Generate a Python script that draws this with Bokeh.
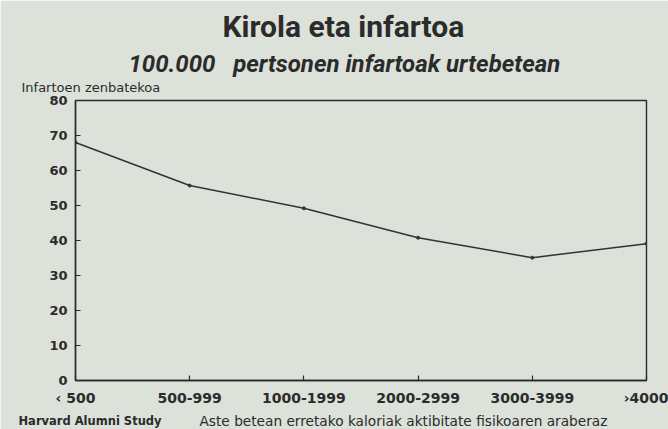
from bokeh.plotting import figure
from bokeh.models import Range1d, FixedTicker, Title
from bokeh.embed import file_html
from bokeh.resources import INLINE

# ---- data ----
categories = ["‹ 500", "500-999", "1000-1999", "2000-2999", "3000-3999", "›4000"]
infarcts = [68, 55.7, 49.2, 40.8, 35.1, 39.1]
y_ticks = [0, 10, 20, 30, 40, 50, 60, 70, 80]

title_text = "Kirola eta infartoa"
subtitle_text = "100.000\u00a0\u00a0 pertsonen infartoak urtebetean"
ylabel_text = "Infartoen zenbatekoa"
source_text = "Harvard Alumni Study"
xlabel_text = "Aste betean erretako kaloriak aktibitate fisikoaren araberaz"

BG = "#dce1da"
INK = "#2b2b2b"

xs = list(range(len(categories)))

p = figure(width=668, height=429, output_backend="svg", toolbar_location=None,
           x_range=Range1d(0, len(categories) - 1), y_range=Range1d(0, 80),
           min_border_left=75, min_border_right=22, min_border_top=100, min_border_bottom=49)
p.background_fill_color = BG
p.border_fill_color = BG
p.outline_line_color = INK
p.outline_line_width = 1.4
p.grid.visible = False

p.line(xs, infarcts, line_color="#333333", line_width=1.5)
p.scatter(xs, infarcts, size=3, color="#333333")

# axes
p.xaxis.ticker = FixedTicker(ticks=xs)
p.xaxis.major_label_overrides = {i: c for i, c in enumerate(categories)}
p.yaxis.ticker = FixedTicker(ticks=y_ticks)
for ax in (p.xaxis[0], p.yaxis[0]):
    ax.axis_line_color = INK
    ax.axis_line_width = 1.4
    ax.major_tick_line_color = INK
    ax.major_tick_line_width = 1.2
    ax.major_tick_in = 5
    ax.major_tick_out = 0
    ax.minor_tick_line_color = None
    ax.major_label_text_font = "DejaVu Sans"
    ax.major_label_text_font_style = "bold"
    ax.major_label_text_color = INK
p.yaxis.major_label_text_font_size = "13px"
p.xaxis.major_label_text_font_size = "14px"
p.yaxis.major_label_standoff = 8
p.xaxis.major_label_standoff = 9

# ---- texts above (stacked from the frame outward) ----
p.add_layout(Title(text=ylabel_text, align="left", offset=-54, vertical_align="top",
                   standoff=6.6, text_font="DejaVu Sans", text_font_style="normal",
                   text_font_size="13px", text_color=INK), "above")
p.add_layout(Title(text=subtitle_text, align="left", offset=53, vertical_align="top",
                   standoff=-5.8, text_font="Roboto", text_font_style="bold italic",
                   text_font_size="24px", text_color=INK), "above")
p.add_layout(Title(text=title_text, align="left", offset=147, vertical_align="top",
                   standoff=14, text_font="Roboto", text_font_style="bold",
                   text_font_size="30px", text_color=INK), "above")

# ---- texts below ----
p.add_layout(Title(text="\u00a0", standoff=9, text_font_size="1px", text_color=BG), "below")
p.add_layout(Title(text=xlabel_text, align="left", offset=124, vertical_align="middle",
                   standoff=-17.7, text_font="DejaVu Sans", text_font_style="normal",
                   text_font_size="13.7px", text_color=INK), "below")
p.add_layout(Title(text=source_text, align="left", offset=-57, vertical_align="middle",
                   standoff=-15.4, text_font="DejaVu Sans", text_font_style="bold",
                   text_font_size="11.5px", text_color=INK), "below")

open("out.html", "w").write(file_html(p, INLINE))
